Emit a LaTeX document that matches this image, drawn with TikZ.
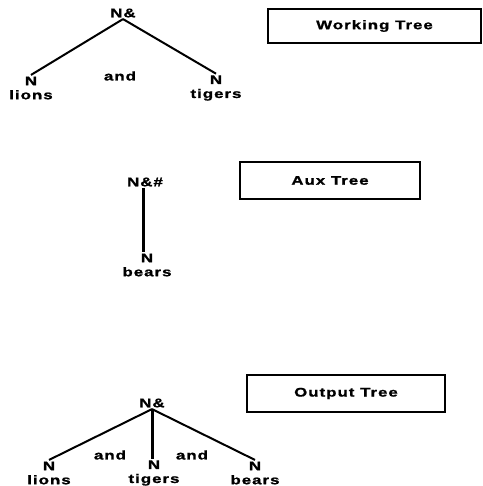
\documentclass[tikz,border=0pt]{standalone}
\usepackage{fontspec}
\setmainfont{Liberation Sans}[FakeStretch=1.35,LetterSpace=8,FakeBold=1.2]
\usepackage{tikz}
\usetikzlibrary{calc}

\begin{document}
\begin{tikzpicture}[x=1pt,y=-1pt,every text node part/.style={align=center},
    every node/.style={font=\fontsize{12.5}{14}\selectfont\bfseries,inner sep=1.5pt},
    branch/.style={line width=2pt},
    stem/.style={line width=3pt},
    label box/.style={draw,line width=1.4pt,inner sep=0pt}]
  \useasboundingbox (0,0) rectangle (482,486);

  % Working Tree
  \node (W0) at (123,13) {N\&};
  \node (WL) at (31,88) {N\\lions};
  \node (WT) at (216,88) {N\\tigers};
  \node (WA) at (120,76) {and};
  \node[label box,minimum width=213pt,minimum height=34pt] (WBox) at (374.5,26) {Working Tree};

  \draw [branch] (W0.south) to (WL.north);
  \draw [branch] (W0.south) to (WT.north);

  % Aux Tree
  \node (A0) at (145,182) {N\&\#};
  \node (AB) at (147,265) {N\\bears};
  \node[label box,minimum width=180pt,minimum height=37pt] (ABox) at (330,180.5) {Aux Tree};

  \draw [stem] ($(A0.south)+(-2,0)$) to ($(A0.south |- AB.north)+(-2,0)$);

  % Output Tree
  \node (O0) at (152,403) {N\&};
  \node (OL) at (49,473) {N\\lions};
  \node (OT) at (154,473) {N\\tigers};
  \node (OB) at (255,473) {N\\bears};
  \node (OA1) at (110,455) {and};
  \node (OA2) at (192,455) {and};
  \node[label box,minimum width=198pt,minimum height=37pt] (OBox) at (346,393.5) {Output Tree};

  \draw [branch] (O0.south) to (OL.north);
  \draw [stem] (O0.south) to (O0.south |- OT.north);
  \draw [branch] (O0.south) to (OB.north);
\end{tikzpicture}
\end{document}
